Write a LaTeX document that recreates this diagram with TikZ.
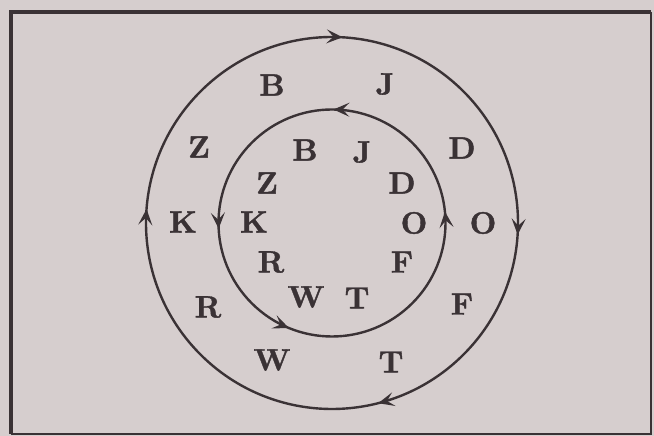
\documentclass[tikz,border=0pt]{standalone}
\usepackage{fontspec}
\newfontfamily\letfont[FakeBold=1.2]{lmroman10-bold.otf}
\usetikzlibrary{arrows.meta,decorations.markings,calc}
\definecolor{bgc}{RGB}{214,206,206}
\definecolor{ink}{RGB}{58,50,53}
\tikzset{
  lett/.style={inner sep=0pt, text=ink, font=\fontsize{31}{36}\letfont},
  ring/.style={draw=ink, line width=2.4pt},
}
\newcommand{\tipmark}{\arrow[ink]{Stealth[length=16pt,width=14pt,inset=7pt]}}
\begin{document}
\begin{tikzpicture}[x=1pt,y=1pt]
\fill[bgc] (0,0) rectangle (654,436);
\useasboundingbox (0,0) rectangle (654,436);
% frame
\draw[ink, line width=4.5pt] (11,2) -- (11,424) -- (651,424);
\draw[ink, line width=2.5pt] (651,424) -- (651,2) -- (11,2);
% centre
\coordinate (c) at (332,213);
% outer ring, clockwise
\draw[ring, postaction={decorate}, decoration={markings,
   mark=at position 0.134 with {\tipmark},
   mark=at position 0.385 with {\tipmark},
   mark=at position 0.585 with {\tipmark},
   mark=at position 0.887 with {\tipmark}}]
  ($(c)+(135:186)$) arc[start angle=135, end angle=-225, radius=186];
% inner ring, counter-clockwise
\draw[ring, postaction={decorate}, decoration={markings,
   mark=at position 0.123 with {\tipmark},
   mark=at position 0.383 with {\tipmark},
   mark=at position 0.563 with {\tipmark},
   mark=at position 0.891 with {\tipmark}}]
  ($(c)+(45:113.5)$) arc[start angle=45, end angle=405, radius=113.5];
% outer letters
\node[lett] (oB) at (272,351) {B};
\node[lett] (oJ) at (385,352) {J};
\node[lett] (oZ) at (199,289) {Z};
\node[lett] (oD) at (462,288) {D};
\node[lett] (oK) at (183,214) {K};
\node[lett] (oO) at (483,213) {O};
\node[lett] (oR) at (208,129) {R};
\node[lett] (oF) at (462,132) {F};
\node[lett] (oW) at (272,76) {W};
\node[lett] (oT) at (391,74) {T};
% inner letters
\node[lett] (iB) at (305,286) {B};
\node[lett] (iJ) at (362,284) {J};
\node[lett] (iZ) at (267,253) {Z};
\node[lett] (iD) at (402,253) {D};
\node[lett] (iK) at (254,214) {K};
\node[lett] (iO) at (414,213) {O};
\node[lett] (iR) at (271,174) {R};
\node[lett] (iF) at (402,174) {F};
\node[lett] (iW) at (306,139) {W};
\node[lett] (iT) at (357,138) {T};
\end{tikzpicture}
\end{document}
